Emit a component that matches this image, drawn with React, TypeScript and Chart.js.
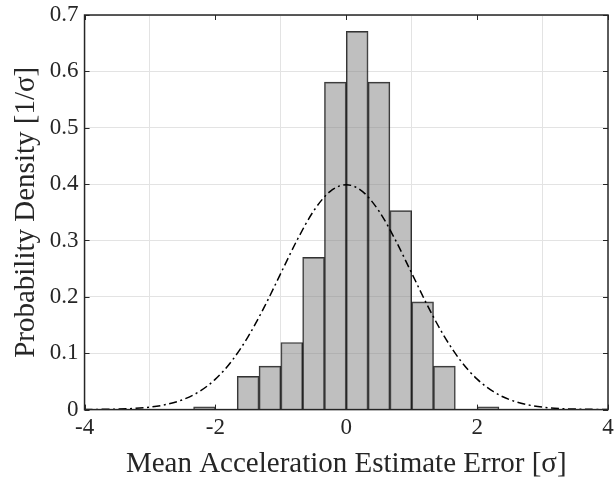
import React, { useEffect, useRef } from "react";
import { Chart, registerables } from "chart.js";

Chart.register(...registerables);

// Histogram bin centres (bin width 1/3) and densities
const binCenters = [-2.1667, -1.5, -1.1667, -0.8333, -0.5, -0.1667, 0.1667, 0.5, 0.8333, 1.1667, 1.5, 2.1667];
const binDensity = [0.0047, 0.059, 0.077, 0.119, 0.27, 0.581, 0.671, 0.581, 0.353, 0.191, 0.077, 0.0047];

// Reference normal curve
const curveX = [-4, -3.75, -3.5, -3.25, -3, -2.75, -2.5, -2.25, -2, -1.75, -1.5, -1.25, -1, -0.75, -0.5, -0.25, 0, 0.25, 0.5, 0.75, 1, 1.25, 1.5, 1.75, 2, 2.25, 2.5, 2.75, 3, 3.25, 3.5, 3.75, 4];
const curveY = [0.0001, 0.0004, 0.0009, 0.002, 0.0044, 0.0091, 0.0175, 0.0317, 0.054, 0.0863, 0.1295, 0.1826, 0.242, 0.3011, 0.3521, 0.3867, 0.3989, 0.3867, 0.3521, 0.3011, 0.242, 0.1826, 0.1295, 0.0863, 0.054, 0.0317, 0.0175, 0.0091, 0.0044, 0.002, 0.0009, 0.0004, 0.0001];

const xTicks = [-4, -2, 0, 2, 4];
const yTicks = [0, 0.1, 0.2, 0.3, 0.4, 0.5, 0.6, 0.7];

const FONT = "'Liberation Serif', serif";
const AXIS_COLOR = "#262626";

const boxPlugin = {
  id: "boxPlugin",
  afterDatasetsDraw(chart: any) {
    const { ctx, chartArea: a, scales } = chart;
    ctx.save();
    ctx.strokeStyle = AXIS_COLOR;
    ctx.lineWidth = 1;
    const tl = 5;
    ctx.beginPath();
    for (const v of xTicks) {
      const px = Math.round(scales.x.getPixelForValue(v)) + 0.5;
      ctx.moveTo(px, a.bottom);
      ctx.lineTo(px, a.bottom - tl);
      ctx.moveTo(px, a.top);
      ctx.lineTo(px, a.top + tl);
    }
    for (const v of yTicks) {
      const py = Math.round(scales.y.getPixelForValue(v)) + 0.5;
      ctx.moveTo(a.left, py);
      ctx.lineTo(a.left + tl, py);
      ctx.moveTo(a.right, py);
      ctx.lineTo(a.right - tl, py);
    }
    ctx.stroke();
    ctx.lineWidth = 1.5;
    ctx.strokeRect(a.left, a.top, a.right - a.left, a.bottom - a.top);
    ctx.restore();
  },
};

export default function App() {
  const ref = useRef<HTMLCanvasElement>(null);
  useEffect(() => {
    if (!ref.current) return;
    const chart = new Chart(ref.current, {
      type: "bar",
      data: {
        datasets: [
          {
            type: "line",
            data: curveX.map((x, i) => ({ x, y: curveY[i] })),
            borderColor: "#000",
            borderWidth: 1.5,
            borderDash: [8, 3.5, 2, 3.5],
            pointRadius: 0,
            cubicInterpolationMode: "monotone",
            fill: false,
            order: 0,
          } as any,
          {
            type: "bar",
            data: binCenters.map((x, i) => ({ x, y: binDensity[i] })),
            backgroundColor: "rgba(128,128,128,0.5)",
            borderColor: "rgba(0,0,0,0.8)",
            borderWidth: 1,
            barPercentage: 1,
            categoryPercentage: 1,
            order: 1,
          } as any,
        ],
      },
      options: {
        animation: false,
        responsive: false,
        maintainAspectRatio: false,
        layout: { padding: { left: 9, right: 0, top: 15, bottom: 0 } },
        plugins: { legend: { display: false }, tooltip: { enabled: false } },
        scales: {
          x: {
            type: "linear",
            min: -4,
            max: 4,
            offset: false,
            afterBuildTicks: (s: any) => {
              s.ticks = xTicks.map((v) => ({ value: v }));
            },
            afterFit: (s: any) => {
              s.paddingRight = 6;
              s.paddingLeft = 0;
            },
            ticks: {
              font: { family: FONT, size: 23 },
              color: AXIS_COLOR,
              padding: 5,
              maxRotation: 0,
              callback: (v: any) => String(v),
            },
            grid: { color: "#e3e3e3", lineWidth: 1, drawTicks: false },
            border: { display: false },
            title: {
              display: true,
              text: "Mean Acceleration Estimate Error [σ]",
              font: { family: FONT, size: 29 },
              color: AXIS_COLOR,
              padding: { top: 0, bottom: 0 },
            },
          },
          y: {
            type: "linear",
            min: 0,
            max: 0.7,
            afterBuildTicks: (s: any) => {
              s.ticks = yTicks.map((v) => ({ value: v }));
            },
            afterFit: (s: any) => {
              s.paddingTop = 0;
              s.paddingBottom = 0;
            },
            ticks: {
              font: { family: FONT, size: 23 },
              color: AXIS_COLOR,
              padding: 6,
              callback: (v: any) => (Number(v) === 0 ? "0" : Number(v).toFixed(1)),
            },
            grid: { color: "#e3e3e3", lineWidth: 1, drawTicks: false },
            border: { display: false },
            title: {
              display: true,
              text: "Probability Density [1/σ]",
              font: { family: FONT, size: 29 },
              color: AXIS_COLOR,
              padding: { top: 0, bottom: 0 },
            },
          },
        },
      },
      plugins: [boxPlugin],
    });
    return () => chart.destroy();
  }, []);
  return (
    <div style={{ position: "fixed", left: 0, top: 0, width: 614, height: 482, background: "#fff" }}>
      <canvas ref={ref} width={614} height={482} style={{ width: 614, height: 482 }} />
    </div>
  );
}
